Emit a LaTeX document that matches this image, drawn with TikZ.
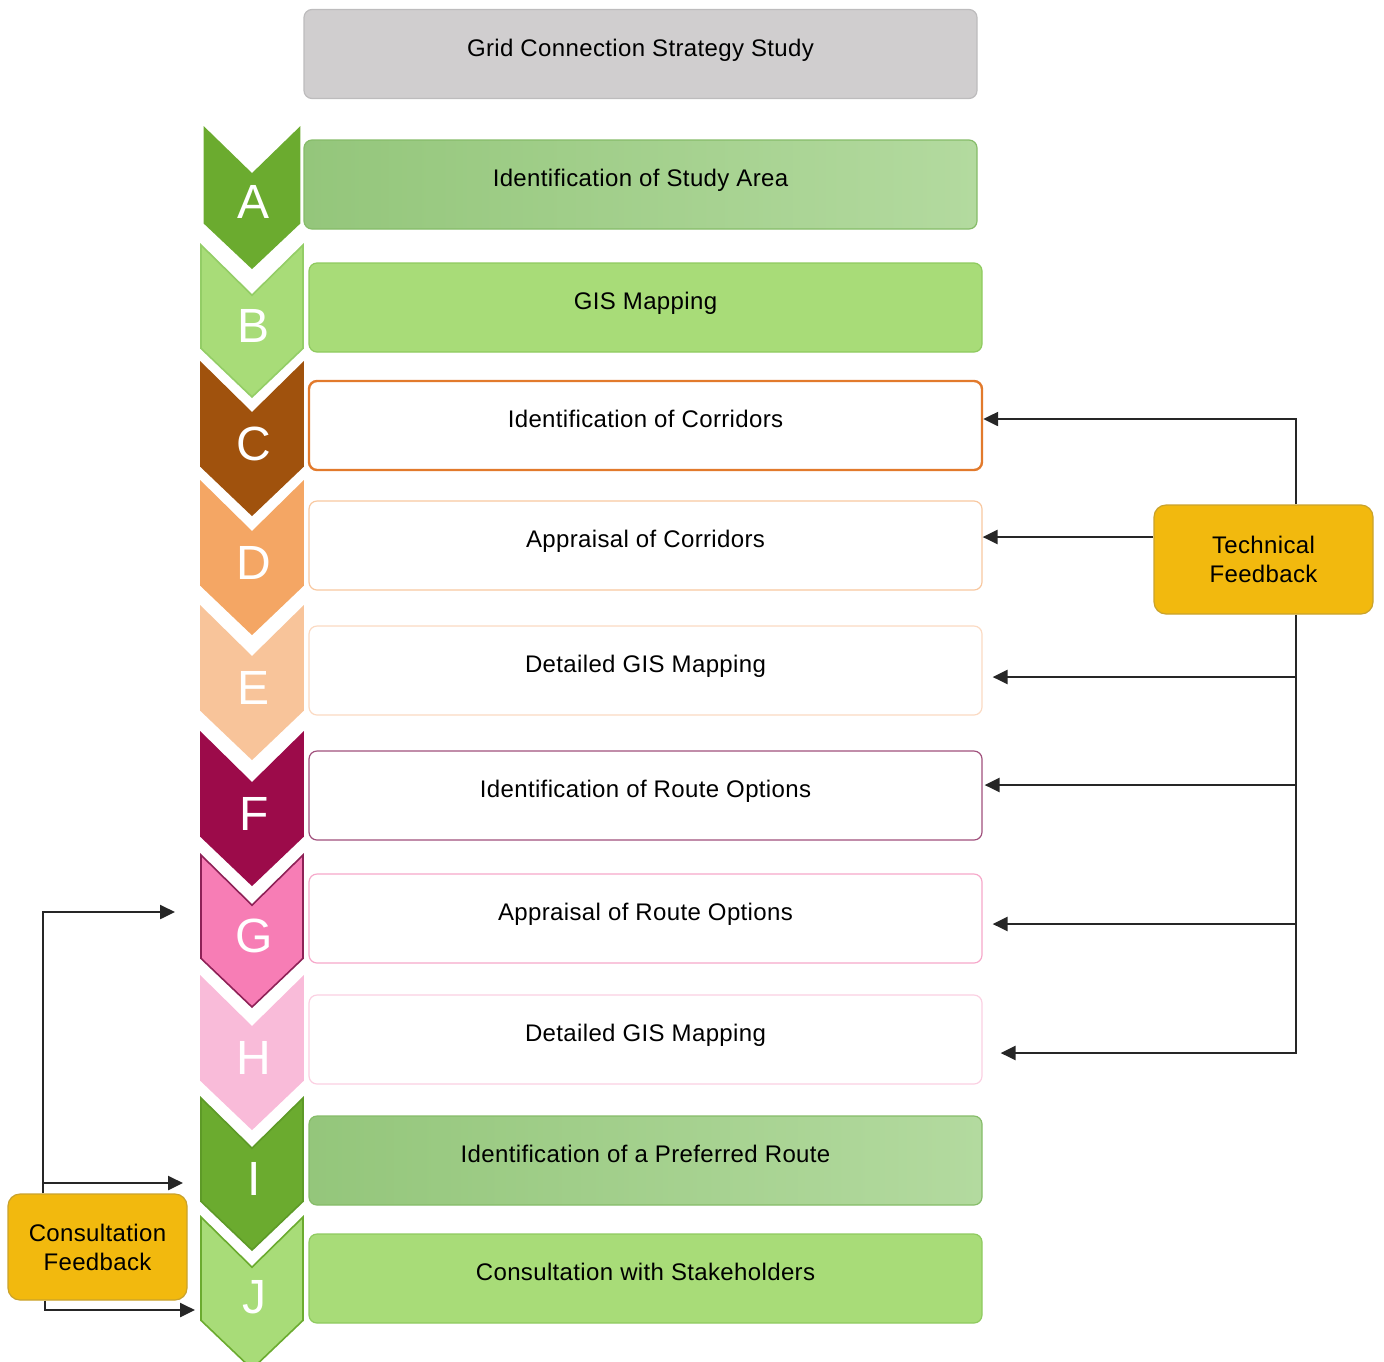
\documentclass[tikz,border=0pt]{standalone}
\usepackage{fontspec}
\setmainfont{Liberation Sans}[LetterSpace=1.5]
\usetikzlibrary{arrows.meta, positioning, calc}

\definecolor{headfill}{HTML}{D0CECF}
\definecolor{headedge}{HTML}{BDBCBD}
\definecolor{greenL}{HTML}{94C67B}
\definecolor{greenR}{HTML}{B3DA9F}
\definecolor{greenedge}{HTML}{86BC69}
\definecolor{limefill}{HTML}{A8DC78}
\definecolor{limeedge}{HTML}{8FCA5F}
\definecolor{edgeC}{HTML}{E27A2C}
\definecolor{edgeD}{HTML}{F8C8A0}
\definecolor{edgeE}{HTML}{FBDAC2}
\definecolor{edgeF}{HTML}{A0507C}
\definecolor{edgeG}{HTML}{F6A8CA}
\definecolor{edgeH}{HTML}{FBD0E2}
\definecolor{fbfill}{HTML}{F2B90E}
\definecolor{fbedge}{HTML}{C9A22C}
% chevron colours
\definecolor{chevA}{HTML}{6BAB2F}
\definecolor{chevB}{HTML}{A8DC78}
\definecolor{chevBedge}{HTML}{93CD66}
\definecolor{chevC}{HTML}{A0520D}
\definecolor{chevD}{HTML}{F4A664}
\definecolor{chevE}{HTML}{F8C49A}
\definecolor{chevF}{HTML}{9C0B4A}
\definecolor{chevG}{HTML}{F77DB5}
\definecolor{chevGedge}{HTML}{8E2157}
\definecolor{chevH}{HTML}{F9BBD9}
\definecolor{chevIedge}{HTML}{5D9A27}

\begin{document}
\begin{tikzpicture}[
    x=0.5pt, y=-0.5pt,
    font=\fontsize{12}{14.5}\selectfont,
    stage/.style={
        draw,
        rectangle,
        rounded corners=4pt,
        minimum width=336.5pt,
        minimum height=44.5pt,
        text height=9pt,
        text depth=7pt,
        inner sep=2pt,
        line width=0.6pt,
        fill=white
    },
    headbox/.style={stage, draw=headedge, fill=headfill},
    greenbox/.style={stage, draw=greenedge, left color=greenL, right color=greenR},
    limebox/.style={stage, draw=limeedge, fill=limefill},
    feedback/.style={
        draw=fbedge,
        fill=fbfill,
        rectangle,
        rounded corners=6pt,
        align=center,
        line width=0.6pt
    },
    chevron/.style={line width=0.8pt, line join=miter},
    letter/.style={
        text=white,
        font=\fontsize{24}{24}\selectfont,
        inner sep=0pt
    },
    arrow/.style={
        -{Triangle[length=7.5pt,width=7pt]},
        line width=1.2pt,
        draw=black!85
    },
    bareline/.style={
        line width=1.2pt,
        draw=black!85
    }
]
\useasboundingbox (0,0) rectangle (1384,1361);

% ============================================================
% Lettered chevrons
% ============================================================

\foreach \ltr/\ytop/\hgt/\hw/\fc/\ec in {
    A/128/140/47.5/chevA/chevA,
    B/245/152/51/chevB/chevBedge,
    C/363/152/51/chevC/chevC,
    D/482/152/51/chevD/chevD,
    E/607/152/51/chevE/chevE,
    F/733/152/51/chevF/chevF,
    G/855/152/51/chevG/chevGedge,
    H/977/152/51/chevH/chevH,
    I/1098/152/51/chevA/chevIedge,
    J/1217/152/51/chevB/chevA} {
    \filldraw[chevron, fill=\fc, draw=\ec]
        ({252-\hw},\ytop) -- (252,{\ytop+0.33*\hgt}) -- ({252+\hw},\ytop)
        -- ({252+\hw},{\ytop+0.68*\hgt}) -- (252,{\ytop+\hgt})
        -- ({252-\hw},{\ytop+0.68*\hgt}) -- cycle;
    \node[letter] (ltr\ltr) at (254,{\ytop+0.53*\hgt}) {\ltr};
}

% ============================================================
% Stage boxes
% ============================================================

\node[headbox]  (study) at (640.5,54)    {Grid Connection Strategy Study};
\node[greenbox] (boxA)  at (640.5,184.5) {Identification of Study Area};
\node[limebox]  (boxB)  at (645.5,307.5) {GIS Mapping};
\node[stage, draw=edgeC, line width=1.2pt] (boxC) at (645.5,425.5) {Identification of Corridors};
\node[stage, draw=edgeD] (boxD) at (645.5,545.5) {Appraisal of Corridors};
\node[stage, draw=edgeE] (boxE) at (645.5,670.5) {Detailed GIS Mapping};
\node[stage, draw=edgeF] (boxF) at (645.5,795.5) {Identification of Route Options};
\node[stage, draw=edgeG] (boxG) at (645.5,918.5) {Appraisal of Route Options};
\node[stage, draw=edgeH] (boxH) at (645.5,1039.5) {Detailed GIS Mapping};
\node[greenbox] (boxI)  at (645.5,1160.5) {Identification of a Preferred Route};
\node[limebox]  (boxJ)  at (645.5,1278.5) {Consultation with Stakeholders};

% ============================================================
% Technical feedback
% ============================================================

\node[feedback, minimum width=109.5pt, minimum height=54.5pt] (tech) at (1263.5,559.5)
    {Technical\\Feedback};

\coordinate (spineT) at ([xshift=16.25pt]tech.north);
\coordinate (spineB) at ([xshift=16.25pt]tech.south);

\draw[arrow] (spineT) |- ([yshift=3.25pt]boxC.east);
\draw[arrow] ([yshift=11.25pt]tech.west) -- ([yshift=4.25pt]boxD.east);
\draw[arrow, shorten >=9pt] (spineB) |- ([yshift=-6.75pt]boxH.east);
\draw[arrow, shorten >=5pt] ([yshift=-3.25pt]boxE.east -| spineB) -- ([yshift=-3.25pt]boxE.east);
\draw[arrow, shorten >=1pt] ([yshift=5.25pt]boxF.east -| spineB) -- ([yshift=5.25pt]boxF.east);
\draw[arrow, shorten >=5pt] ([yshift=-2.75pt]boxG.east -| spineB) -- ([yshift=-2.75pt]boxG.east);

% ============================================================
% Consultation feedback
% ============================================================

\node[feedback, minimum width=89.5pt, minimum height=53pt] (consult) at (97.5,1247)
    {Consultation\\Feedback};

\coordinate (inG) at (175,912);
\coordinate (inI) at (183,1183);
\coordinate (inJ) at (195,1310);
\coordinate (riseC) at ([xshift=-27.25pt]consult.north);
\coordinate (dropC) at ([xshift=-26.25pt]consult.south);

\draw[arrow] (riseC) |- (inG);
\draw[arrow] (riseC |- inI) -- (inI);
\draw[arrow] (dropC) |- (inJ);

\end{tikzpicture}
\end{document}
